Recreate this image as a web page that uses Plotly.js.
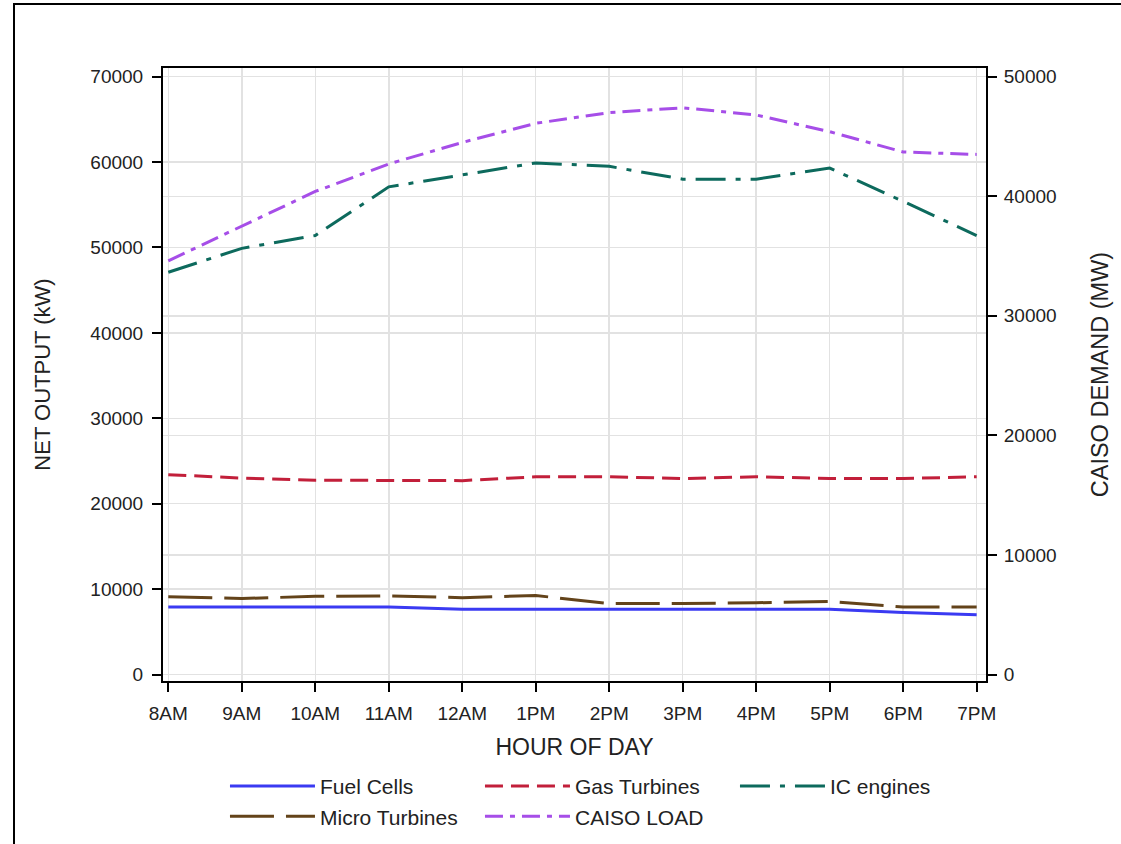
<!DOCTYPE html>
<html>
<head>
<meta charset="utf-8">
<script src="https://cdn.plot.ly/plotly-3.0.1.min.js"></script>
<style>
  html, body { margin: 0; padding: 0; background: #fff; overflow: hidden; }
  #chart { width: 1121px; height: 844px; }
  #frame { position: absolute; left: 13px; top: 3px; width: 1300px; height: 1000px;
           border-top: 2px solid #000; border-left: 2px solid #000; pointer-events: none; }
</style>
</head>
<body>
<div id="chart"></div>
<div id="frame"></div>
<script>
// Hour-of-day categories
const hours = ["8AM", "9AM", "10AM", "11AM", "12AM", "1PM", "2PM", "3PM", "4PM", "5PM", "6PM", "7PM"];

// Net output by generator type (kW)
const fuelCells     = [7900, 7900, 7900, 7900, 7650, 7650, 7650, 7650, 7650, 7650, 7250, 7000];
const gasTurbines   = [23400, 23000, 22750, 22700, 22700, 23150, 23150, 22950, 23150, 22950, 22950, 23150];
const icEngines     = [47100, 49900, 51400, 57100, 58500, 59900, 59500, 58000, 58000, 59300, 55400, 51400];
const microTurbines = [9100, 8900, 9150, 9200, 9000, 9250, 8300, 8300, 8400, 8550, 7900, 7900];

// CAISO system demand (MW)
const caisoLoad = [34600, 37500, 40400, 42700, 44500, 46100, 47000, 47400, 46800, 45400, 43700, 43500];

const FONT = "Liberation Sans, Arial, sans-serif";
const TXT = "#222";
const GRID = "#e2e2e2";

function series(name, y, color, dash, axis) {
  return {
    type: "scatter", mode: "lines", name: name,
    x: hours, y: y, yaxis: axis || "y",
    line: { color: color, width: 3, dash: dash, shape: "linear" },
    hoverinfo: "x+y+name"
  };
}

const data = [
  series("Fuel Cells", fuelCells, "#3a3af2", "solid"),
  series("Gas Turbines", gasTurbines, "#c21f3a", "18px,8px"),
  series("IC engines", icEngines, "#0d6a5d", "30px,10px,5px,10px"),
  series("Micro Turbines", microTurbines, "#63431a", "44px,12px"),
  series("CAISO LOAD", caisoLoad, "#a64ee8", "18px,7px,5px,7px", "y2")
];

const layout = {
  width: 1121, height: 844,
  paper_bgcolor: "#fff", plot_bgcolor: "#fff",
  margin: { l: 163, r: 135, t: 68, b: 163, autoexpand: false },
  font: { family: FONT, size: 19, color: TXT },
  showlegend: true,
  legend: {
    orientation: "h", x: 0.0753, xanchor: "left", y: -0.1385, yanchor: "top",
    entrywidth: 155, entrywidthmode: "pixels", itemwidth: 85,
    font: { family: FONT, size: 21, color: TXT },
    traceorder: "normal", tracegroupgap: 0
  },
  xaxis: {
    type: "category",
    range: [-0.072, 11.127],
    showline: true, linecolor: "#000", linewidth: 2, mirror: true,
    ticks: "outside", ticklen: 9, tickwidth: 2, tickcolor: "#000",
    ticklabelstandoff: 5,
    showgrid: true, gridcolor: GRID, gridwidth: 1.5,
    tickfont: { family: FONT, size: 19, color: TXT },
    title: { text: "HOUR OF DAY", font: { family: FONT, size: 23, color: TXT }, standoff: 16 },
    zeroline: false, fixedrange: true
  },
  yaxis: {
    range: [-761, 71017],
    tickvals: [0, 10000, 20000, 30000, 40000, 50000, 60000, 70000],
    ticktext: ["0", "10000", "20000", "30000", "40000", "50000", "60000", "70000"],
    showline: true, linecolor: "#000", linewidth: 2,
    ticks: "outside", ticklen: 9, tickwidth: 2, tickcolor: "#000",
    ticklabelstandoff: 5,
    showgrid: true, gridcolor: GRID, gridwidth: 1.5,
    tickfont: { family: FONT, size: 19, color: TXT },
    title: { text: "NET OUTPUT (kW)", font: { family: FONT, size: 22, color: TXT }, standoff: 34 },
    zeroline: false, fixedrange: true
  },
  yaxis2: {
    overlaying: "y", side: "right",
    range: [-544, 50727],
    tickvals: [0, 10000, 20000, 30000, 40000, 50000],
    ticktext: ["0", "10000", "20000", "30000", "40000", "50000"],
    showline: true, linecolor: "#000", linewidth: 2,
    ticks: "outside", ticklen: 9, tickwidth: 2, tickcolor: "#000",
    ticklabelstandoff: 3,
    showgrid: true, gridcolor: GRID, gridwidth: 1.5,
    tickfont: { family: FONT, size: 19, color: TXT },
    title: { text: "CAISO DEMAND (MW)", font: { family: FONT, size: 23.5, color: TXT }, standoff: 36 },
    zeroline: false, fixedrange: true
  }
};

Plotly.newPlot("chart", data, layout, { displayModeBar: false, staticPlot: true });
</script>
</body>
</html>
